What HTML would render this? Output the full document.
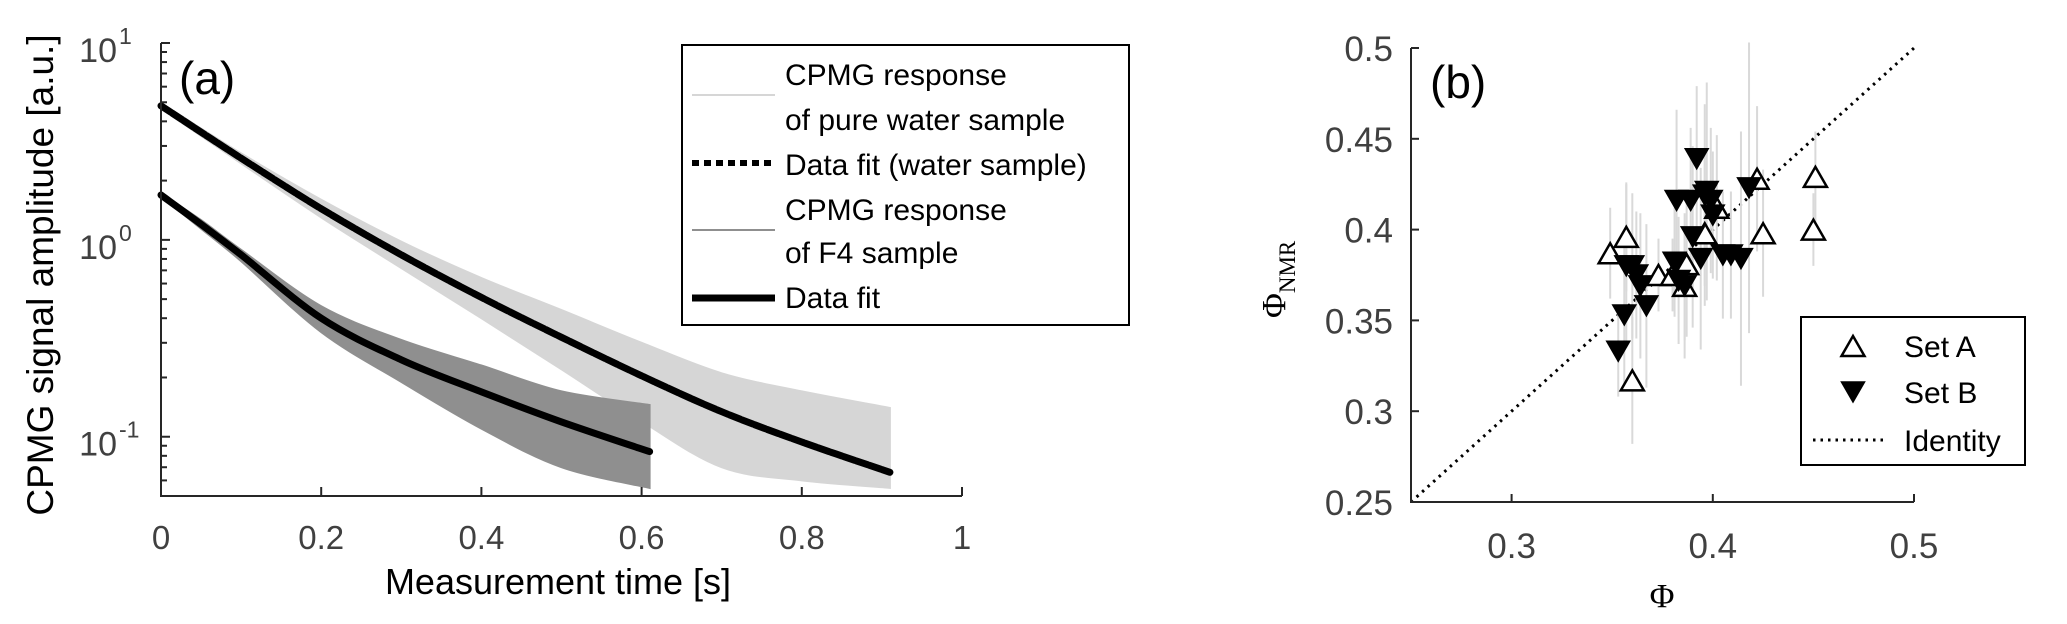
<!DOCTYPE html>
<html><head><meta charset="utf-8"><style>
html,body{margin:0;padding:0;background:#fff;}
svg{display:block;font-family:"Liberation Sans",Arial,sans-serif;}
</style></head><body>
<svg id="fig" width="2067" height="624" viewBox="0 0 2067 624" xmlns="http://www.w3.org/2000/svg">
<g id="pa"></g>
<g id="pb"></g>
</svg>
<script>
// ---------- Panel (a) data ----------
const waterT = [0, 0.1, 0.2, 0.3, 0.4, 0.5, 0.6, 0.7, 0.8, 0.91];
const waterFit = [4.8, 2.6, 1.44, 0.84, 0.51, 0.32, 0.204, 0.134, 0.094, 0.066];
const waterUpper = [4.95, 2.75, 1.6, 0.98, 0.64, 0.44, 0.3, 0.21, 0.17, 0.14];
const waterLower = [4.65, 2.45, 1.3, 0.72, 0.4, 0.22, 0.12, 0.07, 0.06, 0.055];
const f4T = [0, 0.05, 0.1, 0.2, 0.3, 0.4, 0.5, 0.61];
const f4Fit = [1.69, 1.2, 0.84, 0.40, 0.246, 0.169, 0.119, 0.084];
const f4Upper = [1.72, 1.26, 0.89, 0.46, 0.31, 0.23, 0.17, 0.145];
const f4Lower = [1.66, 1.14, 0.78, 0.34, 0.19, 0.11, 0.07, 0.055];
const aXTicks = [0, 0.2, 0.4, 0.6, 0.8, 1];
const aXTickLabels = ["0", "0.2", "0.4", "0.6", "0.8", "1"];
const aYExps = [1, 0, -1];

// ---------- Panel (b) data ----------
const setAx = [0.349, 0.357, 0.360, 0.373, 0.380, 0.387, 0.386, 0.396, 0.402, 0.422, 0.425, 0.451, 0.450];
const setAy = [0.387, 0.396, 0.317, 0.375, 0.375, 0.381, 0.369, 0.398, 0.412, 0.428, 0.398, 0.429, 0.400];
const setAerr = [0.025, 0.03, 0.035, 0.02, 0.02, 0.04, 0.03, 0.04, 0.04, 0.04, 0.035, 0.025, 0.02];
const setBx = [0.353, 0.356, 0.357, 0.360, 0.362, 0.364, 0.367, 0.381, 0.383, 0.386, 0.382, 0.389, 0.392, 0.390, 0.394, 0.396, 0.397, 0.399, 0.400, 0.405, 0.409, 0.414, 0.418];
const setBy = [0.333, 0.353, 0.380, 0.380, 0.375, 0.369, 0.358, 0.382, 0.372, 0.369, 0.416, 0.416, 0.439, 0.396, 0.384, 0.419, 0.421, 0.416, 0.408, 0.386, 0.386, 0.384, 0.423];
const setBerr = [0.025, 0.04, 0.045, 0.04, 0.035, 0.04, 0.045, 0.03, 0.035, 0.04, 0.05, 0.04, 0.04, 0.05, 0.05, 0.05, 0.06, 0.04, 0.035, 0.035, 0.035, 0.07, 0.08];
const bTicksX = [0.3, 0.4, 0.5];
const bTicksY = [0.25, 0.3, 0.35, 0.4, 0.45, 0.5];
const bTickLabelsY = ["0.25", "0.3", "0.35", "0.4", "0.45", "0.5"];

const NS = "http://www.w3.org/2000/svg";
function mk(parent, tag, attrs, text) {
  const e = document.createElementNS(NS, tag);
  for (const k in attrs) e.setAttribute(k, attrs[k]);
  if (text !== undefined) e.textContent = text;
  parent.appendChild(e);
  return e;
}
const AX = "#262626", TK = "#404040";

// ---------- Panel (a) ----------
const pa = document.getElementById("pa");
const aL = 161, aR = 962, aT = 43, aB = 496;
const yMinLog = Math.log10(0.05), yMaxLog = 1;
const ax = t => aL + (t - 0) / (1 - 0) * (aR - aL);
const ay = v => aB - (Math.log10(v) - yMinLog) / (yMaxLog - yMinLog) * (aB - aT);

// Catmull-Rom smooth path through points
function smooth(P, start) {
  let d = start ? "M" + P[0][0].toFixed(1) + "," + P[0][1].toFixed(1) : "L" + P[0][0].toFixed(1) + "," + P[0][1].toFixed(1);
  for (let i = 0; i < P.length - 1; i++) {
    const p0 = P[Math.max(i - 1, 0)], p1 = P[i], p2 = P[i + 1], p3 = P[Math.min(i + 2, P.length - 1)];
    const c1 = [p1[0] + (p2[0] - p0[0]) / 6, p1[1] + (p2[1] - p0[1]) / 6];
    const c2 = [p2[0] - (p3[0] - p1[0]) / 6, p2[1] - (p3[1] - p1[1]) / 6];
    d += `C${c1[0].toFixed(1)},${c1[1].toFixed(1)} ${c2[0].toFixed(1)},${c2[1].toFixed(1)} ${p2[0].toFixed(1)},${p2[1].toFixed(1)}`;
  }
  return d;
}
function band(parent, T, up, lo, fill, name) {
  const U = T.map((t, i) => [ax(t), ay(Math.max(up[i], 0.05))]);
  const Lo = T.map((t, i) => [ax(t), ay(Math.max(lo[i], 0.05))]).reverse();
  const d = smooth(U, true) + smooth(Lo, false) + "Z";
  const p = mk(parent, "path", { d: d, fill: fill, stroke: fill, "stroke-width": 2 });
  
  
}
function line(parent, T, V, name, dash) {
  const P = T.map((t, i) => [ax(t), ay(V[i])]);
  const a = { d: smooth(P, true), fill: "none", stroke: "#000", "stroke-width": 7, "stroke-linecap": "round", "stroke-linejoin": "round" };
  if (dash) a["stroke-dasharray"] = dash;
  const p = mk(parent, "path", a);
  
  
}
band(pa, waterT, waterUpper, waterLower, "#d6d6d6", "water-response-band");
band(pa, f4T, f4Upper, f4Lower, "#8f8f8f", "f4-response-band");
line(pa, waterT, waterFit, "water-fit-line", "12 1.5");
line(pa, f4T, f4Fit, "f4-fit-line");

// axes
const aAxes = mk(pa, "path", { d: `M${aL},${aT}V${aB}H${aR}`, fill: "none", stroke: AX, "stroke-width": 2 });


aXTicks.forEach((t, i) => {
  const x = ax(t);
  mk(pa, "line", { x1: x, x2: x, y1: aB, y2: aB - 9, stroke: AX, "stroke-width": 2 });
  const tx = mk(pa, "text", { x: x, y: 549, "text-anchor": "middle", "font-size": 33, fill: TK }, aXTickLabels[i]);
  
  
});
aYExps.forEach(e => {
  const y = ay(Math.pow(10, e));
  mk(pa, "line", { x1: aL, x2: aL + 9, y1: y, y2: y, stroke: AX, "stroke-width": 2 });
  const tx = mk(pa, "text", { x: 117, y: y + 19, "text-anchor": "end", "font-size": 34, fill: TK }, "10");
  
  
  const sup = mk(pa, "text", { x: 119, y: y + 1, "text-anchor": "start", "font-size": 23, fill: TK }, String(e));
  
  
});
for (let e = -2; e <= 0; e++) for (let m = 2; m <= 9; m++) {
  const v = m * Math.pow(10, e);
  if (v < 0.05 || v > 10) continue;
  const y = ay(v);
  mk(pa, "line", { x1: aL, x2: aL + 6, y1: y, y2: y, stroke: AX, "stroke-width": 2 });
}
let t;
t = mk(pa, "text", { x: 558, y: 594, "text-anchor": "middle", "font-size": 36, fill: "#000" }, "Measurement time [s]");


t = mk(pa, "text", { x: 0, y: 0, "text-anchor": "middle", "font-size": 37, fill: "#000", transform: "translate(53,275) rotate(-90)" }, "CPMG signal amplitude [a.u.]");


t = mk(pa, "text", { x: 179, y: 94, "font-size": 46, fill: "#000" }, "(a)");



// legend a
const lga = mk(pa, "g", {});


mk(lga, "rect", { x: 682, y: 45, width: 447, height: 280, fill: "#fff", stroke: "#000", "stroke-width": 2 });
mk(lga, "line", { x1: 692, x2: 775, y1: 95, y2: 95, stroke: "#d6d6d6", "stroke-width": 2 });
mk(lga, "line", { x1: 692, x2: 775, y1: 163, y2: 163, stroke: "#000", "stroke-width": 6, "stroke-dasharray": "7 5" });
mk(lga, "line", { x1: 692, x2: 775, y1: 230, y2: 230, stroke: "#8f8f8f", "stroke-width": 2 });
mk(lga, "line", { x1: 692, x2: 775, y1: 298, y2: 298, stroke: "#000", "stroke-width": 7 });
[["CPMG response", 85], ["of pure water sample", 130], ["Data fit (water sample)", 175], ["CPMG response", 220], ["of F4 sample", 263], ["Data fit", 308]].forEach(r => {
  const e = mk(lga, "text", { x: 785, y: r[1], "font-size": 30, fill: "#000" }, r[0]);
  
  
});

// ---------- Panel (b) ----------
const pb = document.getElementById("pb");
const bL = 1411, bR = 1914, bT = 48, bB = 502;
const bx = v => bL + (v - 0.25) / 0.25 * (bR - bL);
const by = v => bB - (v - 0.25) / 0.25 * (bB - bT);

const idl = mk(pb, "line", { x1: bx(0.25), y1: by(0.25), x2: bx(0.5), y2: by(0.5), stroke: "#000", "stroke-width": 3, "stroke-dasharray": "2.5 5" });



function errbars(X, Y, E) {
  X.forEach((x, i) => {
    const px = bx(x);
    const e = mk(pb, "line", { x1: px, x2: px, y1: by(Y[i] + E[i]), y2: by(Y[i] - E[i]), stroke: "#d9d9d9", "stroke-width": 2 });
    
    
  });
}
errbars(setAx, setAy, setAerr);
errbars(setBx, setBy, setBerr);
const tw = 11.5, th = 10;
function triUp(g, cx, cy) { return `${cx - tw},${cy + th} ${cx + tw},${cy + th} ${cx},${cy - th}`; }
function triDn(g, cx, cy) { return `${cx - tw},${cy - th} ${cx + tw},${cy - th} ${cx},${cy + th}`; }
setAx.forEach((x, i) => {
  const p = mk(pb, "polygon", { points: triUp(pb, bx(x), by(setAy[i])), fill: "#fff", stroke: "#000", "stroke-width": 2.5 });
  
  
});
setBx.forEach((x, i) => {
  const p = mk(pb, "polygon", { points: triDn(pb, bx(x), by(setBy[i])), fill: "#000", stroke: "#000", "stroke-width": 1.5 });
  
  
});

const bAxes = mk(pb, "path", { d: `M${bL},${bT}V${bB}H${bR}`, fill: "none", stroke: AX, "stroke-width": 2 });


bTicksX.forEach(v => {
  const x = bx(v);
  mk(pb, "line", { x1: x, x2: x, y1: bB, y2: bB - 8, stroke: AX, "stroke-width": 2 });
  const e = mk(pb, "text", { x: x, y: 558, "text-anchor": "middle", "font-size": 35, fill: TK }, String(v));
  
  
});
bTicksY.forEach((v, i) => {
  const y = by(v);
  mk(pb, "line", { x1: bL, x2: bL + 8, y1: y, y2: y, stroke: AX, "stroke-width": 2 });
  const e = mk(pb, "text", { x: 1393, y: y + 13, "text-anchor": "end", "font-size": 35, fill: TK }, bTickLabelsY[i]);
  
  
});
t = mk(pb, "text", { x: 1662, y: 607, "text-anchor": "middle", "font-size": 34, fill: "#000", "font-family": "Liberation Serif, serif" }, "Φ");


const yl = mk(pb, "text", { x: 0, y: 0, "font-size": 34, fill: "#000", "font-family": "Liberation Serif, serif", transform: "translate(1285,318) rotate(-90)" });


mk(yl, "tspan", {}, "Φ");
mk(yl, "tspan", { dy: 10, "font-size": 23 }, "NMR");
t = mk(pb, "text", { x: 1430, y: 98, "font-size": 46, fill: "#000" }, "(b)");



// legend b
const lgb = mk(pb, "g", {});


mk(lgb, "rect", { x: 1801, y: 317, width: 224, height: 148, fill: "#fff", stroke: "#000", "stroke-width": 2 });
mk(lgb, "polygon", { points: triUp(lgb, 1853, 346), fill: "#fff", stroke: "#000", "stroke-width": 2.5 });
mk(lgb, "polygon", { points: triDn(lgb, 1853, 392), fill: "#000", stroke: "#000", "stroke-width": 1.5 });
mk(lgb, "line", { x1: 1813, x2: 1888, y1: 440, y2: 440, stroke: "#000", "stroke-width": 3, "stroke-dasharray": "2.5 5" });
[["Set A", 357], ["Set B", 403], ["Identity", 451]].forEach(r => {
  const e = mk(lgb, "text", { x: 1904, y: r[1], "font-size": 30, fill: "#000" }, r[0]);
  
  
});
</script>
</body></html>
